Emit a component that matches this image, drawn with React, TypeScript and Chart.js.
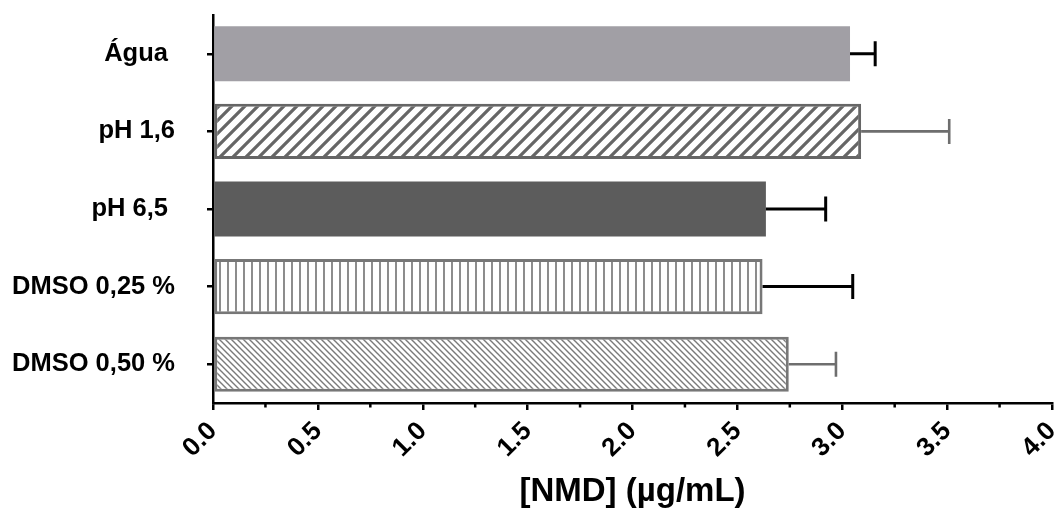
import React, { useEffect, useRef } from "react";
import { Chart, registerables } from "chart.js";

Chart.register(...registerables);

const categories = ["Água ", "pH 1,6", "pH 6,5 ", "DMSO 0,25 %", "DMSO 0,50 %"];
const values = [3.037, 3.09, 2.636, 2.62, 2.745];
const errors = [0.12, 0.42, 0.285, 0.43, 0.225];
const errorColors = ["#000000", "#6e6e6e", "#000000", "#000000", "#6e6e6e"];
const xTickValues = [0, 0.5, 1, 1.5, 2, 2.5, 3, 3.5, 4];
const xMinorTicks = [0.25, 0.75, 1.25, 1.75, 2.25, 2.75, 3.25, 3.75];
const axisTitle = "[NMD] (µg/mL)";

const FONT = "'Liberation Sans', Arial, sans-serif";

function makePattern(kind: string): CanvasPattern | string {
  const c = document.createElement("canvas");
  const ctx = c.getContext("2d")!;
  if (kind === "slash") {
    const s = 13;
    c.width = s; c.height = s;
    ctx.fillStyle = "#ffffff"; ctx.fillRect(0, 0, s, s);
    ctx.strokeStyle = "#666666"; ctx.lineWidth = 3.2;
    ctx.beginPath();
    ctx.moveTo(-2, s + 2); ctx.lineTo(s + 2, -2);
    ctx.moveTo(-2, 2); ctx.lineTo(2, -2);
    ctx.moveTo(s - 2, s + 2); ctx.lineTo(s + 2, s - 2);
    ctx.stroke();
  } else if (kind === "back") {
    const s = 6;
    c.width = s; c.height = s;
    ctx.fillStyle = "#ffffff"; ctx.fillRect(0, 0, s, s);
    ctx.strokeStyle = "#7a7a7a"; ctx.lineWidth = 1.4;
    ctx.beginPath();
    ctx.moveTo(-2, -2); ctx.lineTo(s + 2, s + 2);
    ctx.moveTo(-2, s - 2); ctx.lineTo(2, s + 2);
    ctx.moveTo(s - 2, -2); ctx.lineTo(s + 2, 2);
    ctx.stroke();
  } else {
    const s = 8;
    c.width = s; c.height = s;
    ctx.fillStyle = "#ffffff"; ctx.fillRect(0, 0, s, s);
    ctx.strokeStyle = "#808080"; ctx.lineWidth = 1.8;
    ctx.beginPath();
    ctx.moveTo(4, 0); ctx.lineTo(4, s);
    ctx.stroke();
  }
  return ctx.createPattern(c, "repeat")!;
}

const errorBarPlugin = {
  id: "errorBars",
  afterDatasetsDraw(chart: any) {
    const ctx = chart.ctx;
    const xs = chart.scales.x;
    const meta = chart.getDatasetMeta(0);
    meta.data.forEach((bar: any, i: number) => {
      const x0 = xs.getPixelForValue(values[i]);
      const x1 = xs.getPixelForValue(values[i] + errors[i]);
      const y = bar.y;
      ctx.save();
      ctx.strokeStyle = errorColors[i];
      ctx.lineWidth = errorColors[i] === "#000000" ? 3 : 2.6;
      ctx.beginPath();
      ctx.moveTo(x0, y); ctx.lineTo(x1, y);
      ctx.moveTo(x1, y - 12.5); ctx.lineTo(x1, y + 12.5);
      ctx.stroke();
      ctx.restore();
    });
  },
  afterDraw(chart: any) {
    const ctx = chart.ctx;
    const xs = chart.scales.x;
    const b = chart.chartArea.bottom;
    ctx.save();
    ctx.strokeStyle = "#000";
    ctx.lineWidth = 2.5;
    ctx.beginPath();
    xMinorTicks.forEach((v) => {
      const x = xs.getPixelForValue(v);
      ctx.moveTo(x, b); ctx.lineTo(x, b + 4.5);
    });
    ctx.stroke();
    ctx.restore();
  },
};

export default function App() {
  const ref = useRef<HTMLCanvasElement>(null);
  useEffect(() => {
    const bg = [
      "#a19fa5",
      makePattern("slash"),
      "#5c5c5c",
      makePattern("vert"),
      makePattern("back"),
    ];
    const borders = ["#a19fa5", "#666666", "#5c5c5c", "#777777", "#777777"];
    const bw = [0, 3, 0, 3, 3];
    const chart = new Chart(ref.current!, {
      type: "bar",
      data: {
        labels: categories,
        datasets: [
          {
            data: values,
            backgroundColor: bg as any,
            borderColor: borders,
            borderWidth: bw,
            borderSkipped: false,
            barPercentage: 0.71,
            categoryPercentage: 1,
          },
        ],
      },
      options: {
        indexAxis: "y",
        responsive: false,
        animation: false,
        layout: { padding: { top: 15, right: 6, left: 0, bottom: 0 } },
        plugins: { legend: { display: false }, tooltip: { enabled: false } },
        scales: {
          x: {
            type: "linear",
            min: 0,
            max: 4,
            afterBuildTicks: (s: any) => {
              s.ticks = xTickValues.map((v) => ({ value: v }));
            },
            afterFit: (s: any) => {
              s.height = 106;
              s.paddingLeft = 0;
              s.paddingRight = 0;
              s.paddingTop = 0;
              s.paddingBottom = 0;
            },
            grid: {
              drawOnChartArea: false,
              drawTicks: true,
              tickLength: 7,
              color: "#000",
              lineWidth: 2.5,
            },
            border: { color: "#000", width: 2.5 },
            ticks: {
              minRotation: 45,
              maxRotation: 45,
              padding: 6,
              color: "#000",
              font: { family: FONT, size: 26, weight: "bold" },
              callback: (v: any) => Number(v).toFixed(1),
            },
            title: {
              display: true,
              text: axisTitle,
              color: "#000",
              font: { family: FONT, size: 33, weight: "bold" },
              padding: { top: 0, bottom: -3 },
            },
          },
          y: {
            afterFit: (s: any) => {
              s.width = 213;
              s.paddingLeft = 0;
              s.paddingRight = 0;
              s.paddingTop = 0;
              s.paddingBottom = 0;
            },
            grid: {
              offset: false,
              drawOnChartArea: false,
              drawTicks: true,
              tickLength: 6,
              color: "#000",
              lineWidth: 2.5,
            },
            border: { color: "#000", width: 2.5 },
            ticks: {
              padding: 32,
              color: "#000",
              font: { family: FONT, size: 25.5, weight: "bold" },
            },
          },
        },
      },
      plugins: [errorBarPlugin],
    });
    return () => chart.destroy();
  }, []);
  return (
    <div style={{ position: "absolute", left: 0, top: 0, width: 1058, height: 509, background: "#fff" }}>
      <canvas ref={ref} width={1058} height={509} />
    </div>
  );
}
